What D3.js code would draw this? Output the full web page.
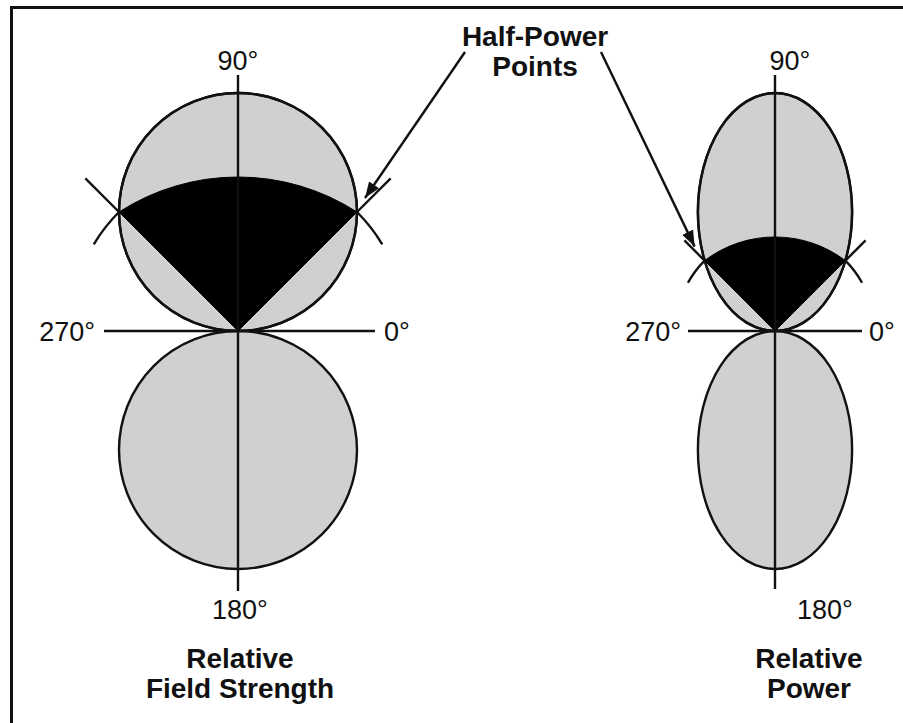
<!DOCTYPE html>
<html>
<head>
<meta charset="utf-8">
<script src="https://cdn.jsdelivr.net/npm/d3@7"></script>
<style>
  html, body { margin: 0; padding: 0; background: #fff; }
  svg { display: block; }
  text { font-family: "Liberation Sans", Arial, sans-serif; fill: #111; }
</style>
</head>
<body>
<script>
var width = 903;
var height = 723;

// --- data ---------------------------------------------------------------
// compass labels of each polar plot, in polar angle (deg, ccw from 0°)
var axisAngles = [0, 90, 180, 270];
var axisLabels = ["0°", "90°", "180°", "270°"];
// the two panels
var panelNames  = ["field", "power"];
var panelTitles = [["Relative", "Field Strength"], ["Relative", "Power"]];
// lobe width relative to lobe length (1 = circle, <1 = ellipse)
var lobeWidths  = [1.0, 0.648];
// half-power directions (deg)
var halfPowerAngles = [45, 135];
// height of the flat top of the black beam sector, relative to lobe length
var sectorApex  = [0.647, 0.395];
var calloutText = ["Half-Power", "Points"];

// --- layout -------------------------------------------------------------
var ORIGIN_Y = 331;
var LOBE_LEN = 238;
var GRAY = '#d0d0d0';
var LINE_W = 2.4;
var DEG_FONT = 27;
var BOLD_FONT = 28;

var panelX = d3.scaleOrdinal().domain(panelNames).range([238, 775]);
var r = d3.scaleLinear().domain([0, 1]).range([0, LOBE_LEN]);
var rad = function(deg){ return deg * Math.PI / 180; };

// screen position of polar point (angle deg, radius relative) for panel i
var polar = function(i, deg, rr){
  return [
    panelX(panelNames[i]) + r(rr) * Math.cos(rad(deg)),
    ORIGIN_Y - r(rr) * Math.sin(rad(deg))
  ];
};

// where the half-power ray hits the lobe (ellipse tangent at the origin)
var lobeHit = function(i, deg){
  var a = lobeWidths[i] / 2, b = 0.5;
  var c = Math.cos(rad(deg)), s = Math.sin(rad(deg));
  return (2 * s / b) / (c * c / (a * a) + s * s / (b * b));
};

var svg = d3.select('body').append('svg')
  .attr('width', width)
  .attr('height', height);

// frame (right and bottom edges fall outside the picture)
svg.append('rect')
  .attr('x', 11.5).attr('y', 7.5)
  .attr('width', width + 20).attr('height', height + 20)
  .attr('fill', 'none')
  .attr('stroke', '#111')
  .attr('stroke-width', 3);

svg.append('defs').append('marker')
  .attr('id', 'arrow')
  .attr('viewBox', '0 0 16 12')
  .attr('refX', 16).attr('refY', 6)
  .attr('markerWidth', 16).attr('markerHeight', 12)
  .attr('markerUnits', 'userSpaceOnUse')
  .attr('orient', 'auto')
  .append('path')
  .attr('d', 'M0,0 L16,6 L0,12 Z')
  .attr('fill', '#111');

var hpPoints = [];

panelNames.forEach(function(name, i){
  var g = svg.append('g').attr('class', 'panel-' + name);
  var ox = panelX(name);

  // the two lobes, up and down
  [1, -1].forEach(function(dir){
    g.append('ellipse')
      .attr('cx', ox)
      .attr('cy', ORIGIN_Y - dir * r(0.5))
      .attr('rx', r(lobeWidths[i] / 2))
      .attr('ry', r(0.5))
      .attr('fill', GRAY)
      .attr('stroke', '#111')
      .attr('stroke-width', LINE_W);
  });

  // half-power points
  var t = lobeHit(i, halfPowerAngles[0]);
  var pts = halfPowerAngles.map(function(a){ return polar(i, a, t); });
  hpPoints.push(pts);

  // black beam sector with a flattened top arc through both points
  var apexY = ORIGIN_Y - r(sectorApex[i]);
  var hx = pts[0][0] - ox, yp = pts[0][1];
  var yc = (hx * hx + yp * yp - apexY * apexY) / (2 * (yp - apexY));
  var R = yc - apexY;
  var p = d3.path();
  p.moveTo(ox, ORIGIN_Y);
  p.lineTo(pts[0][0], pts[0][1]);
  p.arc(ox, yc, R, Math.atan2(pts[0][1] - yc, pts[0][0] - ox),
        Math.atan2(pts[1][1] - yc, pts[1][0] - ox), true);
  p.closePath();
  g.append('path')
    .attr('d', p.toString())
    .attr('fill', '#000')
    .attr('stroke', '#000')
    .attr('stroke-width', 1);

  // redraw lobe outline over the sector edge
  g.append('ellipse')
    .attr('cx', ox).attr('cy', ORIGIN_Y - r(0.5))
    .attr('rx', r(lobeWidths[i] / 2)).attr('ry', r(0.5))
    .attr('fill', 'none').attr('stroke', '#111').attr('stroke-width', LINE_W);

  // X marks: radial extension + arc of the half-power circle
  halfPowerAngles.forEach(function(a, k){
    var P = pts[k];
    var ext = i === 0 ? 0.2 : 0.12;
    var span = (i === 0 ? 14 : 16) * (a > 90 ? 1 : -1);
    var q = polar(i, a, t + ext);
    g.append('line')
      .attr('x1', P[0]).attr('y1', P[1])
      .attr('x2', q[0]).attr('y2', q[1])
      .attr('stroke', '#111').attr('stroke-width', LINE_W);
    var ap = d3.path();
    ap.moveTo(P[0], P[1]);
    ap.arc(ox, ORIGIN_Y, r(t), -rad(a), -rad(a + span), span > 0);
    g.append('path')
      .attr('d', ap.toString())
      .attr('fill', 'none')
      .attr('stroke', '#111').attr('stroke-width', LINE_W);
  });

  // axes
  var hExt = i === 0 ? [134, 137] : [87, 87];
  g.append('line')
    .attr('x1', ox - hExt[0]).attr('x2', ox + hExt[1])
    .attr('y1', ORIGIN_Y).attr('y2', ORIGIN_Y)
    .attr('stroke', '#111').attr('stroke-width', LINE_W);
  g.append('line')
    .attr('x1', ox).attr('x2', ox)
    .attr('y1', 75).attr('y2', i === 0 ? 591 : 589)
    .attr('stroke', '#111').attr('stroke-width', LINE_W);

  // compass labels
  var labelPos = i === 0
    ? [[384, 341, 'start'], [238, 70, 'middle'], [240, 619, 'middle'], [95, 341, 'end']]
    : [[869, 341, 'start'], [790, 70, 'middle'], [825, 619, 'middle'], [681, 341, 'end']];
  axisAngles.forEach(function(ang, k){
    g.append('text')
      .attr('x', labelPos[k][0]).attr('y', labelPos[k][1])
      .attr('text-anchor', labelPos[k][2])
      .attr('font-size', DEG_FONT)
      .text(axisLabels[k]);
  });

  // panel title
  var tx = i === 0 ? 240 : 809;
  panelTitles[i].forEach(function(line, k){
    g.append('text')
      .attr('x', tx).attr('y', 668 + k * 30)
      .attr('text-anchor', 'middle')
      .attr('font-size', BOLD_FONT)
      .attr('font-weight', 'bold')
      .text(line);
  });
});

// callout
calloutText.forEach(function(line, k){
  svg.append('text')
    .attr('x', 535).attr('y', 46 + k * 30)
    .attr('text-anchor', 'middle')
    .attr('font-size', BOLD_FONT)
    .attr('font-weight', 'bold')
    .text(line);
});

var arrows = [
  { from: [465, 52], to: [hpPoints[0][0][0] + 8, hpPoints[0][0][1] - 14] },
  { from: [601, 52], to: [hpPoints[1][1][0] - 10, hpPoints[1][1][1] - 14] }
];
arrows.forEach(function(a){
  svg.append('line')
    .attr('x1', a.from[0]).attr('y1', a.from[1])
    .attr('x2', a.to[0]).attr('y2', a.to[1])
    .attr('stroke', '#111').attr('stroke-width', LINE_W)
    .attr('marker-end', 'url(#arrow)');
});
</script>
</body>
</html>
